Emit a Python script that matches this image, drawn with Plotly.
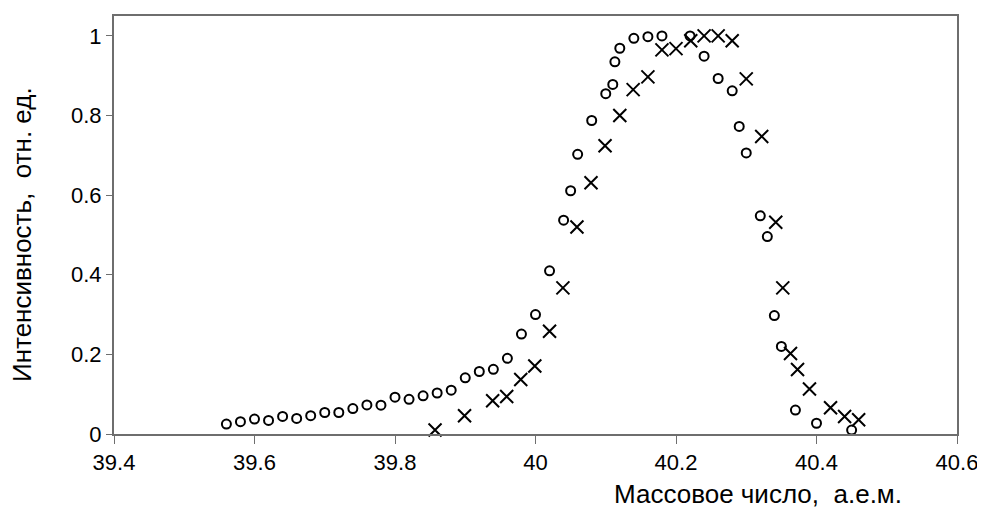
import plotly.graph_objects as go

# Circles series
circ_x = [39.56, 39.58, 39.60, 39.62, 39.64, 39.66, 39.68, 39.70, 39.72, 39.74,
          39.76, 39.78, 39.80, 39.82, 39.84, 39.86, 39.88, 39.90, 39.92, 39.94,
          39.96, 39.98, 40.00, 40.02, 40.04, 40.05, 40.06, 40.08, 40.10, 40.11,
          40.113, 40.12, 40.14, 40.16, 40.18, 40.22, 40.24, 40.26, 40.28, 40.29,
          40.30, 40.32, 40.33, 40.34, 40.35, 40.37, 40.40, 40.45]
circ_y = [0.025, 0.031, 0.0375, 0.034, 0.044, 0.039, 0.046, 0.054, 0.054, 0.064,
          0.073, 0.0725, 0.0925, 0.087, 0.096, 0.103, 0.11, 0.141, 0.157, 0.1625,
          0.19, 0.251, 0.30, 0.41, 0.537, 0.611, 0.7025, 0.7875, 0.855, 0.878,
          0.935, 0.969, 0.994, 0.998, 1.0, 1.0, 0.949, 0.893, 0.862, 0.7725,
          0.706, 0.548, 0.496, 0.2975, 0.22, 0.06, 0.027, 0.01]

# Crosses series
cross_x = [39.857, 39.899, 39.939, 39.959, 39.979, 39.999, 40.02, 40.039, 40.059, 40.079,
           40.099, 40.12, 40.139, 40.16, 40.18, 40.20, 40.221, 40.24, 40.26, 40.28,
           40.30, 40.322, 40.342, 40.352, 40.363, 40.373, 40.39, 40.42, 40.44, 40.46]
cross_y = [0.01, 0.046, 0.0835, 0.094, 0.137, 0.171, 0.258, 0.367, 0.52, 0.631,
           0.724, 0.80, 0.865, 0.897, 0.965, 0.968, 0.988, 1.0, 1.0, 0.988,
           0.892, 0.7475, 0.532, 0.367, 0.202, 0.162, 0.113, 0.066, 0.044, 0.036]

x_ticks = [39.4, 39.6, 39.8, 40.0, 40.2, 40.4, 40.6]
x_tick_labels = ["39.4", "39.6", "39.8", "40", "40.2", "40.4", "40.6"]
y_ticks = [0, 0.2, 0.4, 0.6, 0.8, 1.0]
y_tick_labels = ["0", "0.2", "0.4", "0.6", "0.8", "1"]

x_title = "Массовое число,  а.е.м."
y_title = "Интенсивность,  отн. ед."

FONT = "Liberation Sans, Arial, sans-serif"

fig = go.Figure()
fig.add_trace(go.Scatter(
    x=circ_x, y=circ_y, mode="markers", cliponaxis=False,
    marker=dict(symbol="circle-open", size=9, color="black", line=dict(width=2, color="black")),
    showlegend=False))
fig.add_trace(go.Scatter(
    x=cross_x, y=cross_y, mode="markers", cliponaxis=False,
    marker=dict(symbol="x-thin-open", size=13, color="black", line=dict(width=2, color="black")),
    showlegend=False))

fig.update_layout(
    width=985, height=508,
    margin=dict(l=106, r=36, t=6, b=82),
    paper_bgcolor="white", plot_bgcolor="white",
    font=dict(family=FONT, color="black", size=22),
    xaxis=dict(range=[39.4, 40.6], tickvals=x_ticks, ticktext=x_tick_labels,
               showgrid=False, zeroline=False, showline=True, linecolor="#6e6e6e",
               linewidth=2, mirror=True, ticks="outside", ticklen=8, tickwidth=1,
               tickcolor="#6e6e6e", tickfont=dict(size=22, family=FONT)),
    yaxis=dict(range=[0, 1.05], tickvals=y_ticks, ticktext=y_tick_labels,
               showgrid=False, zeroline=False, showline=True, linecolor="#6e6e6e",
               linewidth=2, mirror=True, ticks="outside", ticklen=6, tickwidth=1,
               tickcolor="#6e6e6e", tickfont=dict(size=22, family=FONT)),
    annotations=[
        dict(text=x_title, xref="paper", yref="paper", x=0.764, y=0, yshift=-60,
             xanchor="center", yanchor="middle", showarrow=False,
             font=dict(size=26, family=FONT)),
        dict(text=y_title, xref="paper", yref="paper", x=0, xshift=-92, y=0.476,
             xanchor="center", yanchor="middle", textangle=-90, showarrow=False,
             font=dict(size=26, family=FONT)),
    ],
)

fig.write_html("out.html")
